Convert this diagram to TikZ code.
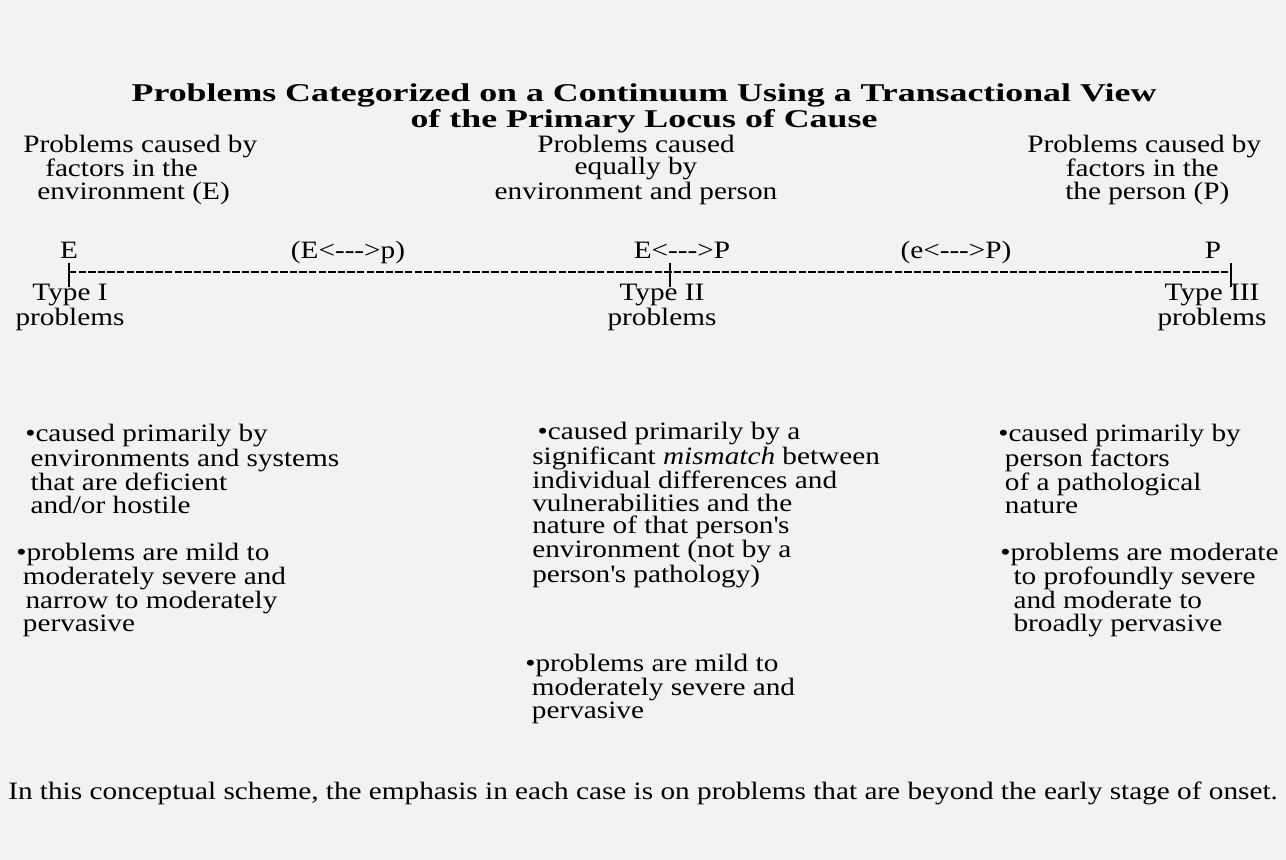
\documentclass[tikz,border=0pt]{standalone}
\usepackage{fontspec}
\setmainfont{Liberation Serif}[FakeStretch=1.17]
\newfontfamily\ttlfont{Liberation Serif}[FakeStretch=1.4]
\usepackage{tikz}
\definecolor{bgc}{HTML}{F2F2F2}
\newcommand{\dshs}{\hbox{-}\hbox{-}\hbox{-}}
\newcommand{\ind}[1]{\hspace*{#1pt}}

\begin{document}
\begin{tikzpicture}[x=0.75pt, y=-0.75pt,
  txt/.style={inner sep=0pt, anchor=base west, align=left,
              font=\fontsize{18.75pt}{17pt}\selectfont},
  ctr/.style={txt, anchor=base, align=center},
  ttl/.style={inner sep=0pt, anchor=base, align=center,
              font=\ttlfont\fontsize{19.2pt}{16.5pt}\selectfont\bfseries},
  tick/.style={line width=0.8pt},
  axis/.style={line width=1pt, dash pattern=on 5.5pt off 1.7pt}
]
\fill[bgc] (0,0) rectangle (1286,860);

\node[ttl] (T) at (644,127) {Problems Categorized on a Continuum Using a Transactional View\\of the Primary Locus of Cause};

% causes
\node[txt] (L) at (23,199) {Problems caused by\\\ind{16.5}factors in the\\\ind{10.5}environment (E)};
\node[ctr] (M) at (636,199) {Problems caused\\equally by\\environment and person};
\node[txt] (R) at (1027,199) {Problems caused by\\\ind{29}factors in the\\\ind{28.5}the person (P)};

% continuum
\node[ctr] (E)   at (69,258)   {E};
\node[ctr] (Ep)  at (348,258)  {(E<\dshs>p)};
\node[ctr] (EP)  at (682,258)  {E<\dshs>P};
\node[ctr] (eP)  at (956,258)  {(e<\dshs>P)};
\node[ctr] (P)   at (1213,258) {P};

\coordinate (t1) at (69,272);
\coordinate (t2) at (670,272);
\coordinate (t3) at (1231,272);
\draw[axis] (t1) -- (t2) -- (t3);
\draw[tick] (t1) ++(0,-9) -- ++(0,24);
\draw[tick] (t2) ++(0,-9) -- ++(0,24);
\draw[tick] (t3) ++(0,-9) -- ++(0,24);

\node[ctr] (I)   at (70,325)   {Type I\\problems};
\node[ctr] (II)  at (662,325)  {Type II\\problems};
\node[ctr] (III) at (1212,325) {Type III\\problems};

% descriptions
\node[txt] (Ia) at (25,513) {•caused primarily by\\\ind{4}environments and systems\\\ind{4}that are deficient\\\ind{4}and/or hostile};
\node[txt] (Ib) at (16,631) {•problems are mild to\\\ind{5}moderately severe and\\\ind{7}narrow to moderately\\\ind{5}pervasive};

\node[txt] (IIa) at (532,582) {\ind{4}•caused primarily by a\\significant \textit{mismatch} between\\individual differences and\\vulnerabilities and the\\nature of that person\textquotesingle s\\environment (not by a\\person\textquotesingle s pathology)};
\node[txt] (IIb) at (525,718) {•problems are mild to\\\ind{5}moderately severe and\\\ind{5}pervasive};

\node[txt] (IIIa) at (998,513) {•caused primarily by\\\ind{5}person factors\\\ind{5}of a pathological\\\ind{5}nature};
\node[txt] (IIIb) at (1000,631) {•problems are moderate\\\ind{10}to profoundly severe\\\ind{10}and moderate to\\\ind{10}broadly pervasive};

\node[txt] (N) at (8,799) {In this conceptual scheme, the emphasis in each case is on problems that are beyond the early stage of onset.};
\end{tikzpicture}
\end{document}
